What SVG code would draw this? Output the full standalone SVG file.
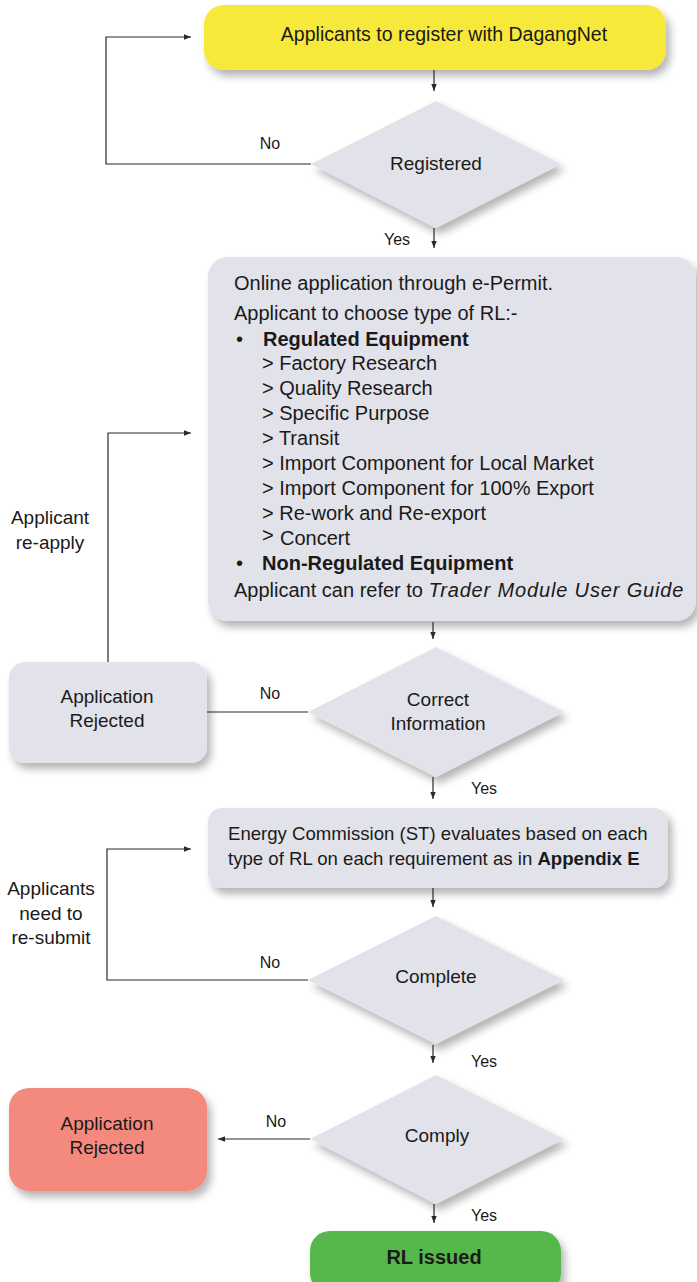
<svg xmlns="http://www.w3.org/2000/svg" width="697" height="1282" viewBox="0 0 697 1282">
<style>
text{font-family:"Liberation Sans",Arial,sans-serif;fill:#1a1a1a}
.t{font-size:19px}
.c{text-anchor:middle}
.b{font-size:20px}
.e{font-size:18.6px}
.l{font-size:16px}
.bold{font-weight:bold}
.conn path{fill:none;stroke:#2a2a2a;stroke-width:1.2}
.gray{fill:#E2E2EA}
</style>
<defs>
<filter id="sh" x="-10%" y="-10%" width="130%" height="140%">
<feGaussianBlur in="SourceAlpha" stdDeviation="4"/>
<feOffset dx="4" dy="6" result="o"/>
<feComponentTransfer><feFuncA type="linear" slope="0.3"/></feComponentTransfer>
<feMerge><feMergeNode/><feMergeNode in="SourceGraphic"/></feMerge>
</filter>
<marker id="ah" markerWidth="8" markerHeight="8" refX="7" refY="4" orient="auto" markerUnits="userSpaceOnUse">
<path d="M0,1.3 L7,4 L0,6.7 Z" fill="#2a2a2a"/>
</marker>
</defs>
<rect width="697" height="1282" fill="#ffffff"/>

<g id="n-register">
<rect x="204" y="5" width="462" height="65" rx="20" fill="#F6E93A" filter="url(#sh)"/>
<text class="c" font-size="19.5" x="444" y="41">Applicants to register with DagangNet</text>
</g>

<g id="n-registered">
<polygon class="gray" points="436,101 561,164 436,228 311,164" filter="url(#sh)"/>
<text class="t c" x="436" y="170">Registered</text>
</g>

<g id="n-online">
<rect class="gray" x="208" y="257" width="488" height="364" rx="20" filter="url(#sh)"/>
<text class="b" x="234" y="290">Online application through e-Permit.</text>
<text class="b" x="234" y="320">Applicant to choose type of RL:-</text>
<text class="b" x="236" y="346">•</text>
<text class="b bold" x="263" y="346">Regulated Equipment</text>
<text class="b" x="262" y="370">&gt; Factory Research</text>
<text class="b" x="262" y="395">&gt; Quality Research</text>
<text class="b" x="262" y="420">&gt; Specific Purpose</text>
<text class="b" x="262" y="445">&gt; Transit</text>
<text class="b" x="262" y="470">&gt; Import Component for Local Market</text>
<text class="b" x="262" y="495">&gt; Import Component for 100% Export</text>
<text class="b" x="262" y="520">&gt; Re-work and Re-export</text>
<text class="b" x="262" y="542">&gt;</text>
<text class="b" x="280" y="545">Concert</text>
<text class="b" x="236" y="570">•</text>
<text class="b bold" x="262" y="570">Non-Regulated Equipment</text>
<text class="b" x="234" y="597">Applicant can refer to <tspan font-style="italic" letter-spacing="0.85">Trader Module User Guide</tspan></text>
</g>

<g id="n-rejected1">
<rect class="gray" x="9" y="662" width="198" height="101" rx="16" filter="url(#sh)"/>
<text class="t c" x="107" y="703">Application</text>
<text class="t c" x="107" y="727">Rejected</text>
</g>

<g id="n-correct">
<polygon class="gray" points="436,647 564,712 436,777 308,712" filter="url(#sh)"/>
<text class="t c" x="438" y="706">Correct</text>
<text class="t c" x="438" y="730">Information</text>
</g>

<g id="n-evaluate">
<rect class="gray" x="208" y="808" width="460" height="80" rx="14" filter="url(#sh)"/>
<text class="e" x="228" y="840">Energy Commission (ST) evaluates based on each</text>
<text class="e" x="228" y="865">type of RL on each requirement as in <tspan class="bold">Appendix E</tspan></text>
</g>

<g id="n-complete">
<polygon class="gray" points="436,916 564,980 436,1044 308,980" filter="url(#sh)"/>
<text class="t c" x="436" y="983">Complete</text>
</g>

<g id="n-comply">
<polygon class="gray" points="436,1075 564,1139 436,1204 310,1139" filter="url(#sh)"/>
<text class="t c" x="437" y="1142">Comply</text>
</g>

<g id="n-rejected2">
<rect x="9" y="1088" width="198" height="103" rx="20" fill="#F48A7E" filter="url(#sh)"/>
<text class="t c" x="107" y="1130">Application</text>
<text class="t c" x="107" y="1154">Rejected</text>
</g>

<g id="n-issued">
<rect x="310" y="1231" width="251" height="62" rx="20" fill="#56B84B" filter="url(#sh)"/>
<text class="b c bold" x="434" y="1264">RL issued</text>
</g>

<g id="labels">
<text class="t c" x="50" y="524">Applicant</text>
<text class="t c" x="50" y="549">re-apply</text>
<text class="t c" x="51" y="895">Applicants</text>
<text class="t c" x="51" y="920">need to</text>
<text class="t c" x="51" y="944">re-submit</text>
</g>

<g class="conn" id="connectors">
<path d="M434,70 V91" marker-end="url(#ah)"/>
<path d="M311,164 H106 V37 H191" marker-end="url(#ah)"/>
<path d="M434,228 V248" marker-end="url(#ah)"/>
<path d="M433,622 V639" marker-end="url(#ah)"/>
<path d="M308,712 H207"/>
<path d="M108,662 V433 H191" marker-end="url(#ah)"/>
<path d="M433,777 V799" marker-end="url(#ah)"/>
<path d="M433,888 V907" marker-end="url(#ah)"/>
<path d="M308,980 H107 V849 H191" marker-end="url(#ah)"/>
<path d="M433,1045 V1063" marker-end="url(#ah)"/>
<path d="M310,1139 H218" marker-end="url(#ah)"/>
<path d="M434,1204 V1223" marker-end="url(#ah)"/>
<text class="l c" x="270" y="149">No</text>
<text class="l c" x="397" y="245">Yes</text>
<text class="l c" x="270" y="699">No</text>
<text class="l c" x="484" y="794">Yes</text>
<text class="l c" x="270" y="968">No</text>
<text class="l c" x="484" y="1067">Yes</text>
<text class="l c" x="276" y="1127">No</text>
<text class="l c" x="484" y="1221">Yes</text>
</g>
</svg>
